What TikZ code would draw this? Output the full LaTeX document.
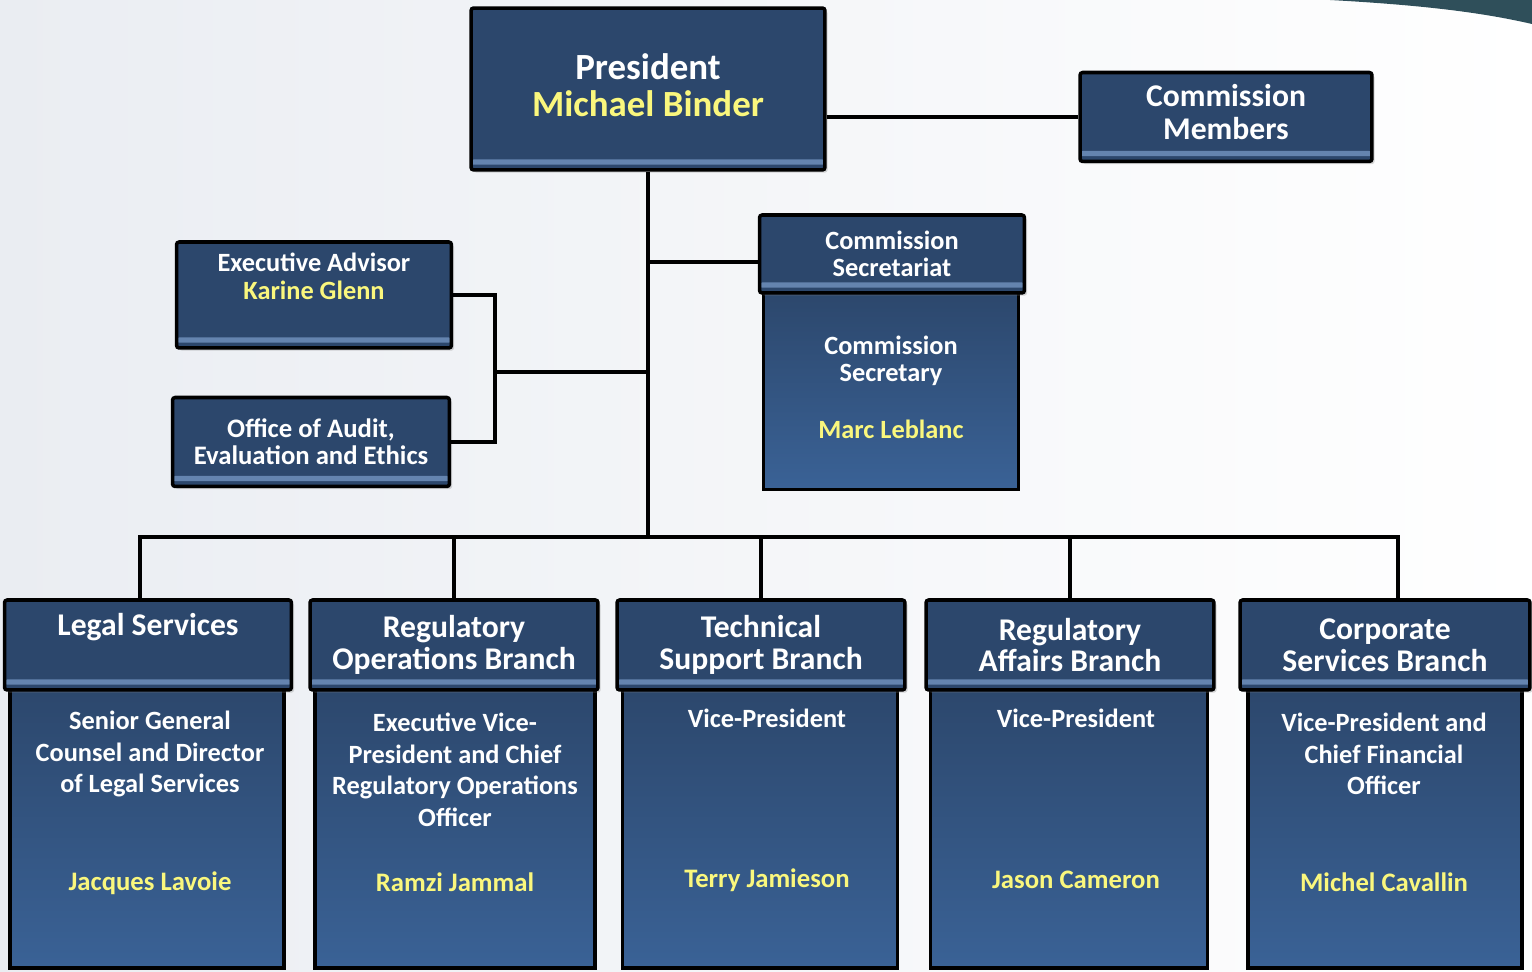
\documentclass[tikz,border=0pt]{standalone}
\usepackage{fontspec}
\setmainfont{Carlito}
\usetikzlibrary{positioning,shadows}

\definecolor{boxblue}{RGB}{44,71,108}
\definecolor{boxlight}{RGB}{58,98,150}
\definecolor{bandblue}{RGB}{100,132,175}
\definecolor{nameyellow}{RGB}{250,247,125}
\definecolor{swoosh}{RGB}{47,79,90}
\definecolor{paper}{RGB}{234,237,242}

\tikzset{
  headbox/.style={draw=black, line width=2pt, fill=boxblue, rounded corners=1.5pt,
    drop shadow={opacity=0.3, shadow xshift=1.5pt, shadow yshift=-1.5pt},
    text=white, font=\bfseries, align=center, inner sep=2pt,
    path picture={\fill[bandblue] ([yshift=3pt]path picture bounding box.south west)
      rectangle ([yshift=6pt]path picture bounding box.south east);}},
  bodybox/.style={draw=black, line width=2pt, top color=boxblue, bottom color=boxlight},
  roletext/.style={text=white, font=\bfseries\fontsize{15}{18}\selectfont, align=center},
  nametext/.style={text=nameyellow, font=\bfseries\fontsize{15.2}{18}\selectfont},
  link/.style={line width=2.2pt}
}

\begin{document}
\begin{tikzpicture}[x=0.02cm, y=-0.02cm]
  \useasboundingbox (0,0) rectangle (1532,972);
  \fill[left color=paper, right color=white] (0,0) rectangle (1532,972);
  \fill[swoosh] (1330,0) .. controls (1420,5) and (1480,12) .. (1532,24) -- (1532,0) -- cycle;

  % top of the chart
  \node (pres) [headbox, minimum width=7.08cm, minimum height=3.24cm, font=\bfseries\fontsize{21}{21}\selectfont]
    at (648,89) {President\\\textcolor{nameyellow}{Michael Binder}\\[-16.4pt]\mbox{}};
  \node (members) [headbox, minimum width=5.84cm, minimum height=1.78cm, font=\bfseries\fontsize{18}{18.7}\selectfont]
    at (1226,117) {Commission\\Members\\[-13.3pt]\mbox{}};

  % secretariat
  \node (sectbd) [bodybox, minimum width=5.1cm, minimum height=3.98cm] at (891,390) {};
  \node (secthd) [headbox, minimum width=5.3cm, minimum height=1.56cm, font=\bfseries\fontsize{15}{15.3}\selectfont]
    at (892,254) {Commission\\Secretariat};
  \node (sectrole) [roletext, font=\bfseries\fontsize{15}{15.3}\selectfont] at (891,361) {Commission\\Secretary};
  \node (sectname) [nametext, font=\bfseries\fontsize{15}{15.3}\selectfont] at (891,429) {Marc Leblanc};

  % advisors on the left
  \node (ea) [headbox, minimum width=5.5cm, minimum height=2.12cm, font=\bfseries\fontsize{15}{16.4}\selectfont]
    at (314,295) {Executive Advisor\\\textcolor{nameyellow}{Karine Glenn}\\[5pt]\mbox{}};
  \node (oa) [headbox, minimum width=5.54cm, minimum height=1.78cm, font=\bfseries\fontsize{15.2}{15.3}\selectfont]
    at (311,442) {Office of Audit,\\Evaluation and Ethics};
  \coordinate (brk) at (495,372);

  % branches
  \node (lbd) [bodybox, minimum width=5.48cm, minimum height=5.64cm] at (147,827) {};
  \node (rbd) [bodybox, minimum width=5.6cm, minimum height=5.64cm] at (455,827) {};
  \node (tbd) [bodybox, minimum width=5.5cm, minimum height=5.64cm] at (760,827) {};
  \node (abd) [bodybox, minimum width=5.54cm, minimum height=5.64cm] at (1069,827) {};
  \node (cbd) [bodybox, minimum width=5.48cm, minimum height=5.64cm] at (1385,827) {};

  \node (lhd) [headbox, minimum width=5.74cm, minimum height=1.8cm, font=\bfseries\fontsize{18}{18}\selectfont]
    at (148,645) {Legal Services\\[5.6pt]\mbox{}};
  \node (rhd) [headbox, minimum width=5.76cm, minimum height=1.8cm, font=\bfseries\fontsize{18}{18}\selectfont]
    at (454,645) {Regulatory\\Operations Branch};
  \node (thd) [headbox, minimum width=5.76cm, minimum height=1.8cm, font=\bfseries\fontsize{18}{18}\selectfont]
    at (761,645) {Technical\\Support Branch};
  \node (ahd) [headbox, minimum width=5.76cm, minimum height=1.8cm, font=\bfseries\fontsize{18}{18}\selectfont]
    at (1070,645) {Regulatory\\Affairs Branch};
  \node (chd) [headbox, minimum width=5.8cm, minimum height=1.8cm, font=\bfseries\fontsize{18}{18}\selectfont]
    at (1385,645) {Corporate\\Services Branch};

  \node (lrole) [roletext] at (150,754) {Senior General\\Counsel and Director\\of Legal Services};
  \node (rrole) [roletext] at (455,770) {Executive Vice-\\President and Chief\\Regulatory Operations\\Officer};
  \node (trole) [roletext] at (767,718) {Vice-President};
  \node (arole) [roletext] at (1076,718) {Vice-President};
  \node (crole) [roletext] at (1384,754) {Vice-President and\\Chief Financial\\Officer};

  \node (lname) [nametext] at (150,883) {Jacques Lavoie};
  \node (rname) [nametext] at (455,882) {Ramzi Jammal};
  \node (tname) [nametext] at (767,880) {Terry Jamieson};
  \node (aname) [nametext] at (1076,880) {Jason Cameron};
  \node (cname) [nametext] at (1384,882) {Michel Cavallin};

  % connectors
  \coordinate (bus) at (648,537);
  \draw[link] (pres.east |- members.west) -- (members.west);
  \draw[link] (pres.south) -- (bus);
  \draw[link] ([yshift=-0.16cm]pres.south |- secthd.west) -- ([yshift=-0.16cm]secthd.west);
  \draw[link] (ea.east) -| (brk) |- (oa.east);
  \draw[link] (brk) -- (pres.south |- brk);
  \draw[link] ([xshift=-0.16cm]lhd.north) |- (bus) -| ([xshift=0.26cm]chd.north);
  \draw[link] (rhd.north) -- (rhd.north |- bus);
  \draw[link] (thd.north) -- (thd.north |- bus);
  \draw[link] (ahd.north) -- (ahd.north |- bus);
\end{tikzpicture}
\end{document}
